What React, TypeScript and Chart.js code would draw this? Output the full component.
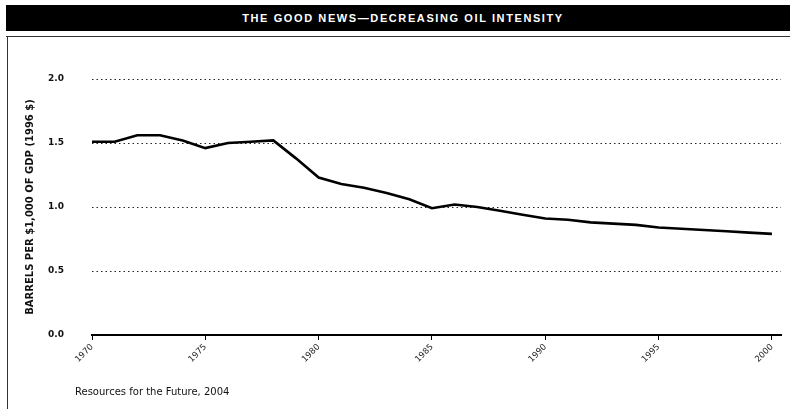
import React, { useEffect, useRef } from "react";
import { Chart, registerables } from "chart.js";

Chart.register(...registerables);

const years = [1970,1971,1972,1973,1974,1975,1976,1977,1978,1979,1980,1981,1982,1983,1984,1985,1986,1987,1988,1989,1990,1991,1992,1993,1994,1995,1996,1997,1998,1999,2000];
const intensity = [1.51,1.51,1.56,1.56,1.52,1.46,1.50,1.51,1.52,1.38,1.23,1.18,1.15,1.11,1.06,0.99,1.02,1.00,0.97,0.94,0.91,0.90,0.88,0.87,0.86,0.84,0.83,0.82,0.81,0.80,0.79];
const xTickYears = [1970,1975,1980,1985,1990,1995,2000];
const yTicks = [0, 0.5, 1.0, 1.5, 2.0];
const title = "THE GOOD NEWS\u2014DECREASING OIL INTENSITY";
const yTitle = "BARRELS PER $1,000 OF GDP (1996 $)";
const source = "Resources for the Future, 2004";

export default function App() {
  const ref = useRef<HTMLCanvasElement>(null);
  useEffect(() => {
    if (!ref.current) return;
    const chart = new Chart(ref.current, {
      type: "line",
      data: {
        datasets: [
          {
            data: years.map((y, i) => ({ x: y, y: intensity[i] })),
            borderColor: "#000",
            borderWidth: 2.6,
            pointRadius: 0,
            tension: 0,
            fill: false,
          },
        ],
      },
      options: {
        animation: false,
        responsive: false,
        devicePixelRatio: 1,
        layout: { padding: { left: 24, right: 9, top: 79, bottom: 29 } },
        plugins: { legend: { display: false }, tooltip: { enabled: false } },
        scales: {
          x: {
            type: "linear",
            min: 1970,
            max: 2000.4,
            afterBuildTicks: (s: any) => {
              s.ticks = xTickYears.map((v) => ({ value: v }));
            },
            afterFit: (s: any) => {
              s.height = 45;
            },
            border: { display: true, color: "#000", width: 2 },
            grid: { drawOnChartArea: false, drawTicks: true, tickLength: 5, color: "#000", lineWidth: 1 },
            ticks: {
              minRotation: 45,
              maxRotation: 45,
              autoSkip: false,
              color: "#222",
              padding: 2,
              font: { family: "DejaVu Sans", size: 8.5 },
              callback: (v: any) => String(v),
            },
          },
          y: {
            min: 0,
            max: 2,
            afterBuildTicks: (s: any) => {
              s.ticks = yTicks.map((v) => ({ value: v }));
            },
            afterFit: (s: any) => {
              s.width = 68;
            },
            border: { display: false, dash: [1.5, 3] },
            grid: {
              drawTicks: false,
              color: (c: any) => (c.tick && c.tick.value === 0 ? "rgba(0,0,0,0)" : "#222"),
              lineWidth: 1,
            },
            ticks: {
              color: "#111",
              padding: 28,
              font: { family: "DejaVu Sans", size: 9, weight: "bold" },
              callback: (v: any) => Number(v).toFixed(1),
            },
            title: {
              display: true,
              text: yTitle,
              color: "#111",
              padding: { top: 0, bottom: 0 },
              font: { family: "DejaVu Sans", size: 10, weight: "bold" },
            },
          },
        },
      },
    });
    return () => chart.destroy();
  }, []);

  return (
    <div style={{ position: "fixed", left: 0, top: 0, width: 790, height: 409, background: "#fff", overflow: "hidden" }}>
      <canvas ref={ref} width={790} height={409} style={{ position: "absolute", left: 0, top: 0 }} />
      <div
        style={{
          position: "absolute",
          left: 6,
          top: 5,
          width: 784,
          height: 26,
          background: "#000",
          color: "#fff",
          fontFamily: "Liberation Sans",
          fontWeight: "bold",
          fontSize: 11,
          letterSpacing: 1.6,
          lineHeight: "26px",
          textAlign: "center",
          boxSizing: "border-box",
          paddingLeft: 10,
          whiteSpace: "nowrap",
        }}
      >
        {title}
      </div>
      <div style={{ position: "absolute", left: 6, top: 36, width: 784, height: 1, background: "#333" }} />
      <div style={{ position: "absolute", left: 7, top: 36, width: 1, height: 373, background: "#333" }} />
      <div
        style={{
          position: "absolute",
          left: 75,
          top: 386,
          fontFamily: "DejaVu Sans",
          fontSize: 10,
          color: "#111",
          whiteSpace: "nowrap",
        }}
      >
        {source}
      </div>
    </div>
  );
}
